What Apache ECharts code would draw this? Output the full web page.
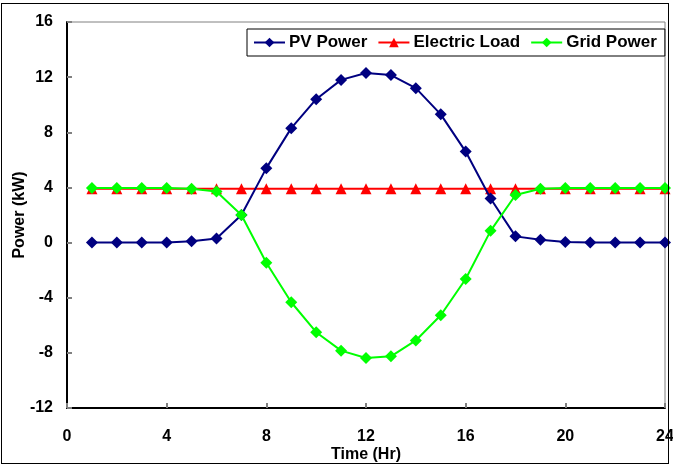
<!DOCTYPE html>
<html><head><meta charset="utf-8">
<script src="https://cdn.jsdelivr.net/npm/echarts@6/dist/echarts.min.js"></script>
<style>html,body{margin:0;padding:0;background:#fff}#c{width:673px;height:468px;}
#frame{position:absolute;left:1px;top:3px;width:668px;height:461px;border:1px solid #000;box-sizing:border-box;pointer-events:none}</style>
</head><body><div id="c"></div><div id="frame"></div>
<script>
const hours = [1,2,3,4,5,6,7,8,9,10,11,12,13,14,15,16,17,18,19,20,21,22,23,24];
const pvPower = [0,0,0,0,0.1,0.3,2.0,5.4,8.3,10.4,11.8,12.3,12.15,11.2,9.3,6.6,3.2,0.45,0.2,0.05,0,0,0,0];
const electricLoad = [3.9,3.9,3.9,3.9,3.9,3.9,3.9,3.9,3.9,3.9,3.9,3.9,3.9,3.9,3.9,3.9,3.9,3.9,3.9,3.9,3.9,3.9,3.9,3.9];
const gridPower = [3.95,3.95,3.95,3.95,3.9,3.7,2.0,-1.47,-4.33,-6.5,-7.84,-8.37,-8.25,-7.1,-5.27,-2.64,0.85,3.45,3.9,3.95,3.95,3.95,3.95,3.95];
const xTicks = [0,4,8,12,16,20,24];
const yTicks = [-12,-8,-4,0,4,8,12,16];

const pair = a => hours.map((h,i)=>[h,a[i]]);
const font = 'Liberation Sans, Arial, sans-serif';
const chart = echarts.init(document.getElementById('c'));
chart.setOption({
  animation:false,
  backgroundColor:'#fff',
  grid:{left:67,right:8,top:22,bottom:60,containLabel:false,outerBoundsMode:'none',show:true,borderColor:'#808080',borderWidth:1},
  legend:{
    left:247, top:29, itemWidth:31, itemHeight:12, itemGap:10,
    padding:[5,8,5,6], borderColor:'#000', borderWidth:1, backgroundColor:'#fff',
    textStyle:{fontFamily:font,fontWeight:'bold',fontSize:17,color:'#000',padding:[0,0,0,-1]},
    data:['PV Power','Electric Load','Grid Power']
  },
  xAxis:{
    type:'value', min:xTicks[0], max:xTicks[xTicks.length-1], interval:4,
    name:'Time (Hr)', nameLocation:'middle', nameGap:39, nameMoveOverlap:false,
    nameTextStyle:{fontFamily:font,fontWeight:'bold',fontSize:16,color:'#000'},
    axisLine:{onZero:false,lineStyle:{color:'#000',width:2}},
    axisTick:{inside:true,length:5,lineStyle:{color:'#808080',width:2}},
    axisLabel:{fontFamily:font,fontWeight:'bold',fontSize:16,color:'#000',margin:21},
    splitLine:{show:false}
  },
  yAxis:{
    type:'value', min:yTicks[0], max:yTicks[yTicks.length-1], interval:4,
    name:'Power (kW)', nameLocation:'middle', nameGap:39, nameMoveOverlap:false,
    nameTextStyle:{fontFamily:font,fontWeight:'bold',fontSize:16,color:'#000'},
    axisLine:{onZero:false,lineStyle:{color:'#000',width:2}},
    axisTick:{inside:true,length:5,lineStyle:{color:'#808080',width:2}},
    axisLabel:{fontFamily:font,fontWeight:'bold',fontSize:16,color:'#000',margin:14},
    splitLine:{show:false}
  },
  series:[
    {name:'PV Power',type:'line',data:pair(pvPower),symbol:'diamond',symbolSize:12,
     itemStyle:{color:'#000080'},lineStyle:{color:'#000080',width:2},z:3},
    {name:'Electric Load',type:'line',data:pair(electricLoad),symbol:'triangle',symbolSize:11,
     itemStyle:{color:'#ff0000'},lineStyle:{color:'#ff0000',width:2},z:2},
    {name:'Grid Power',type:'line',data:pair(gridPower),symbol:'diamond',symbolSize:12,
     itemStyle:{color:'#00ff00'},lineStyle:{color:'#00ff00',width:2},z:4}
  ]
});
</script></body></html>
